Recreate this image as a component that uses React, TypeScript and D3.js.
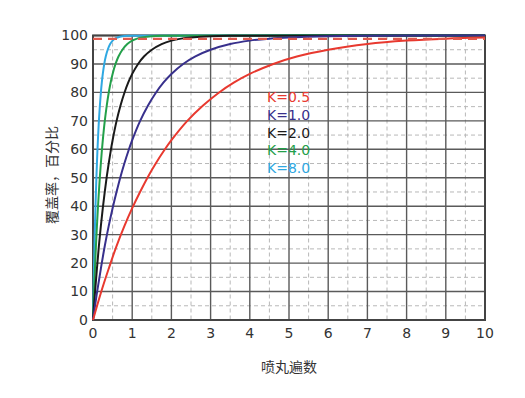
import React from "react";
import * as d3 from "d3";

const xTicks = [0, 1, 2, 3, 4, 5, 6, 7, 8, 9, 10];
const yTicks = [0, 10, 20, 30, 40, 50, 60, 70, 80, 90, 100];
const xMinor = [0.5, 1.5, 2.5, 3.5, 4.5, 5.5, 6.5, 7.5, 8.5, 9.5];
const yMinor = [5, 15, 25, 35, 45, 55, 65, 75, 85, 95];
const fullCoverage = 98.8;

const k05X = [0, 0.2, 0.4, 0.6, 0.8, 1.0, 1.2, 1.4, 1.6, 1.8, 2.0, 2.4, 2.8, 3.2, 3.6, 4.0, 4.6, 5.2, 6.0, 7.0, 8.0, 9.0, 10];
const k05Y = [0, 9.5, 18, 26, 33, 39.3, 45, 50.3, 55, 59.3, 63.2, 69.9, 75.3, 79.8, 83.5, 86.5, 90, 92.6, 95, 97, 98.2, 98.9, 99.3];
const k1X = [0, 0.1, 0.2, 0.3, 0.4, 0.5, 0.6, 0.7, 0.8, 0.9, 1.0, 1.2, 1.4, 1.6, 1.8, 2.0, 2.3, 2.6, 3.0, 3.5, 4.0, 4.5, 5.0, 6.0, 7.0, 10];
const k1Y = [0, 9.5, 18, 26, 33, 39.3, 45, 50.3, 55, 59.3, 63.2, 69.9, 75.3, 79.8, 83.5, 86.5, 90, 92.6, 95, 97, 98.2, 98.9, 99.3, 99.75, 99.9, 100];
const k2X = [0, 0.05, 0.1, 0.15, 0.2, 0.25, 0.3, 0.35, 0.4, 0.45, 0.5, 0.6, 0.7, 0.8, 0.9, 1.0, 1.15, 1.3, 1.5, 1.75, 2.0, 2.25, 2.5, 3.0, 3.5, 10];
const k2Y = [0, 9.5, 18, 26, 33, 39.3, 45, 50.3, 55, 59.3, 63.2, 69.9, 75.3, 79.8, 83.5, 86.5, 90, 92.6, 95, 97, 98.2, 98.9, 99.3, 99.75, 99.9, 100];
const k4X = [0, 0.025, 0.05, 0.075, 0.1, 0.125, 0.15, 0.175, 0.2, 0.225, 0.25, 0.3, 0.35, 0.4, 0.45, 0.5, 0.575, 0.65, 0.75, 0.875, 1.0, 1.125, 1.25, 1.5, 1.75, 10];
const k4Y = [0, 9.5, 18, 26, 33, 39.3, 45, 50.3, 55, 59.3, 63.2, 69.9, 75.3, 79.8, 83.5, 86.5, 90, 92.6, 95, 97, 98.2, 98.9, 99.3, 99.75, 99.9, 100];
const k8X = [0, 0.0125, 0.025, 0.0375, 0.05, 0.0625, 0.075, 0.0875, 0.1, 0.1125, 0.125, 0.15, 0.175, 0.2, 0.225, 0.25, 0.2875, 0.325, 0.375, 0.4375, 0.5, 0.5625, 0.625, 0.75, 0.875, 10];
const k8Y = [0, 9.5, 18, 26, 33, 39.3, 45, 50.3, 55, 59.3, 63.2, 69.9, 75.3, 79.8, 83.5, 86.5, 90, 92.6, 95, 97, 98.2, 98.9, 99.3, 99.75, 99.9, 100];

const seriesNames = ["K=0.5", "K=1.0", "K=2.0", "K=4.0", "K=8.0"];
const seriesColors = ["#e8392f", "#38308c", "#1a1a1a", "#23a04a", "#2fa8e2"];
const seriesX = [k05X, k1X, k2X, k4X, k8X];
const seriesY = [k05Y, k1Y, k2Y, k4Y, k8Y];

const xTitle = "喷丸遍数";
const yTitle = "覆盖率，百分比";

export default function App() {
  const W = 525, H = 398;
  const left = 93, right = 485, top = 35.5, bottom = 320;
  const x = d3.scaleLinear().domain([0, 10]).range([left, right]);
  const y = d3.scaleLinear().domain([0, 100]).range([bottom, top]);
  const line = d3
    .line<[number, number]>()
    .x((d) => x(d[0]))
    .y((d) => y(Math.min(100, d[1])))
    .curve(d3.curveCatmullRom.alpha(0.5));
  const font = "'DejaVu Sans', sans-serif";
  const order = [4, 3, 2, 1, 0];
  return (
    <svg width={W} height={H} style={{ position: "absolute", left: 0, top: 0, background: "#fff" }}>
      <rect x={0} y={0} width={W} height={H} fill="#fff" />
      {xMinor.map((v) => (
        <line key={"xm" + v} x1={x(v)} x2={x(v)} y1={top} y2={bottom} stroke="#b8b8b8" strokeWidth={1} strokeDasharray="4,3" />
      ))}
      {yMinor.map((v) => (
        <line key={"ym" + v} x1={left} x2={right} y1={y(v)} y2={y(v)} stroke="#b8b8b8" strokeWidth={1} strokeDasharray="4,3" />
      ))}
      {xTicks.map((v) => (
        <line key={"xg" + v} x1={x(v)} x2={x(v)} y1={top} y2={bottom} stroke="#5a5a5a" strokeWidth={1.4} />
      ))}
      {yTicks.map((v) => (
        <line key={"yg" + v} x1={left} x2={right} y1={y(v)} y2={y(v)} stroke="#5a5a5a" strokeWidth={1.4} />
      ))}
      <rect x={left} y={top} width={right - left} height={bottom - top} fill="none" stroke="#444" strokeWidth={2} />
      {order.map((i) => (
        <path
          key={"s" + i}
          d={line(seriesX[i].map((v, j) => [v, seriesY[i][j]] as [number, number])) || ""}
          fill="none"
          stroke={seriesColors[i]}
          strokeWidth={2}
        />
      ))}
      <line x1={left} x2={right} y1={y(fullCoverage)} y2={y(fullCoverage)} stroke="#e05a4e" strokeWidth={2.2} strokeDasharray="9,6" />
      {yTicks.map((v) => (
        <text key={"yl" + v} x={left - 5} y={y(v)} dy="0.35em" textAnchor="end" fontSize={14} fill="#333" fontFamily={font}>
          {v}
        </text>
      ))}
      {xTicks.map((v) => (
        <text key={"xl" + v} x={x(v)} y={bottom + 18} textAnchor="middle" fontSize={14} fill="#333" fontFamily={font}>
          {v}
        </text>
      ))}
      {seriesNames.map((n, i) => (
        <text key={"lg" + n} x={267} y={97 + i * 17.8} dy="0.35em" fontSize={14} fill={seriesColors[i]} fontFamily={font}>
          {n}
        </text>
      ))}
      <text x={(left + right) / 2} y={372} textAnchor="middle" fontSize={14} fill="#333" fontFamily="'Noto Sans CJK SC', sans-serif">
        {xTitle}
      </text>
      <text
        transform={`translate(52, 175) rotate(-90)`}
        textAnchor="middle"
        dy="0.35em"
        fontSize={14}
        fill="#333"
        fontFamily="'Noto Sans CJK SC', sans-serif"
      >
        {yTitle}
      </text>
    </svg>
  );
}
